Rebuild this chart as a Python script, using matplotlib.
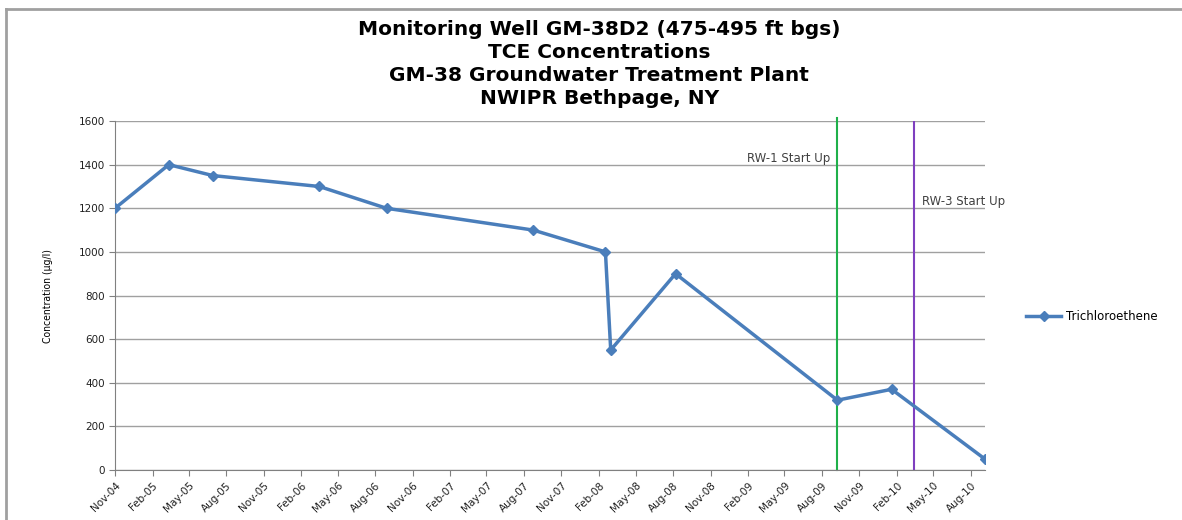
import pandas as pd
import numpy as np
import matplotlib
matplotlib.use('Agg')
import matplotlib.pyplot as plt
import matplotlib.dates as mdates
from matplotlib.lines import Line2D

# sample dates and TCE concentrations (ug/l)
sample_dates = ['2004-11-01', '2005-03-13', '2005-06-29', '2006-03-17', '2006-08-29',
                '2007-08-24', '2008-02-17', '2008-03-01', '2008-08-07', '2009-09-08',
                '2010-01-19', '2010-09-05']
tce = [1200, 1400, 1350, 1300, 1200, 1100, 1000, 550, 900, 320, 370, 50]

event_dates = ['2009-09-06', '2010-03-14']
event_labels = ['RW-1 Start Up', 'RW-3 Start Up']
event_colors = ['#1fb04a', '#7f3fbf']

title_lines = ['Monitoring Well GM-38D2 (475-495 ft bgs)', 'TCE Concentrations',
               'GM-38 Groundwater Treatment Plant', 'NWIPR Bethpage, NY']

dates = pd.to_datetime(sample_dates)
events = pd.to_datetime(event_dates)

fig = plt.figure(figsize=(11.82, 5.2), dpi=100)
# chart frame: only top and left edges visible in the original
fig.add_artist(Line2D([0.005, 0.005], [0, 0.983], color='#a0a0a0', linewidth=2))
fig.add_artist(Line2D([0.005, 1], [0.983, 0.983], color='#a0a0a0', linewidth=2))

ax = fig.add_axes([0.0973, 0.0962, 0.736, 0.671])

ax.plot(dates, tce, color='#4a7ebb', linewidth=2.5, marker='D', markersize=5,
        label='Trichloroethene', zorder=3)

# start-up lines
ax.axvline(events[0], color=event_colors[0], linewidth=1.5, ymax=1.01, clip_on=False)
ax.axvline(events[1], color=event_colors[1], linewidth=1.5)
ax.text(events[0] - pd.Timedelta(days=15), 1430, event_labels[0], ha='right', va='center',
        fontsize=8.5, color='#404040')
ax.text(events[1] + pd.Timedelta(days=20), 1230, event_labels[1], ha='left', va='center',
        fontsize=8.5, color='#404040', clip_on=False)

ax.set_ylim(0, 1600)
ax.set_yticks(np.arange(0, 1601, 200))
ax.set_xlim(dates[0], dates[-1])
ax.xaxis.set_major_locator(mdates.MonthLocator(bymonth=[2, 5, 8, 11]))
ax.xaxis.set_major_formatter(mdates.DateFormatter('%b-%y'))
plt.setp(ax.get_xticklabels(), rotation=45, ha='right', rotation_mode='anchor')
ax.tick_params(axis='both', labelsize=7.5, color='#808080', length=4, labelcolor='#202020')

ax.grid(axis='y', color='#a0a0a0', linewidth=1)
ax.set_axisbelow(True)
for s in ['top', 'right']:
    ax.spines[s].set_visible(False)
for s in ['left', 'bottom']:
    ax.spines[s].set_color('#808080')

ax.set_ylabel('Concentration (µg/l)', fontsize=7.5, fontstretch='condensed', labelpad=18)

fig.text(0.507, 0.962, '\n'.join(title_lines), ha='center', va='top', fontsize=14.5,
         fontweight='bold', linespacing=1.27)

ax.legend(loc='center left', bbox_to_anchor=(1.035, 0.44), frameon=False, fontsize=8.5,
          handlelength=3, handletextpad=0.4)

fig.savefig('out.png', dpi=100)
